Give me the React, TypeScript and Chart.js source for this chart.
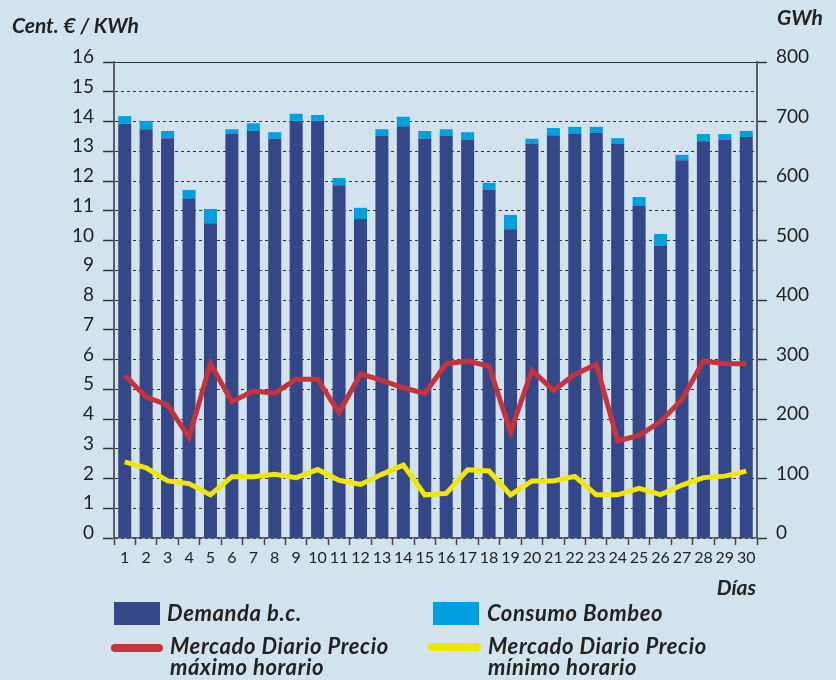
import React, { useEffect, useRef } from "react";
import { Chart, registerables } from "chart.js";

Chart.register(...registerables);

const dias = ["1","2","3","4","5","6","7","8","9","10","11","12","13","14","15","16","17","18","19","20","21","22","23","24","25","26","27","28","29","30"];
const demanda = [696,687,672,570,529,679,684,671,701,701,593,536,676,692,671,676,669,585,519,662,677,679,681,662,558,491,635,667,669,674];
const bombeo = [13,14,12,15,24,8,13,11,12,10,12,19,11,16,13,11,13,12,24,9,12,12,10,10,15,20,9,12,10,10];
const precioMax = [5.47,4.74,4.47,3.38,5.86,4.58,4.94,4.87,5.34,5.34,4.21,5.52,5.30,5.05,4.86,5.86,5.95,5.78,3.56,5.64,4.96,5.50,5.84,3.26,3.45,3.91,4.66,5.95,5.86,5.86];
const precioMin = [2.56,2.36,1.92,1.83,1.45,2.06,2.06,2.14,2.03,2.30,1.94,1.80,2.14,2.45,1.45,1.50,2.29,2.25,1.45,1.92,1.92,2.07,1.45,1.45,1.67,1.46,1.78,2.03,2.08,2.25];

const leftMax = 16;
const rightMax = 800;
const rightStep = 100;

const BG = "#d3e3ed";
const C_DEM = "#334789";
const C_BOM = "#00a0e0";
const C_MAX = "#c8323a";
const C_MIN = "#f2e600";
const TXT = "#222";
const FONT = "Lato, 'Open Sans', sans-serif";

function Txt(props: { x: number; baseline: number; size: number; lh?: number; ls?: number; align?: "left" | "right"; children: React.ReactNode }) {
  const { x, baseline, size, align = "left" } = props;
  const lh = props.lh ?? size;
  const top = baseline - lh / 2 - 0.387 * size;
  const style: React.CSSProperties = {
    position: "absolute",
    top,
    fontFamily: FONT,
    fontWeight: 700,
    fontStyle: "italic",
    fontSize: size,
    lineHeight: lh + "px",
    letterSpacing: (props.ls ?? 0) + "px",
    color: TXT,
    whiteSpace: "nowrap",
  };
  if (align === "left") style.left = x;
  else { style.right = 836 - x; style.textAlign = "right"; }
  return <div style={style}>{props.children}</div>;
}

export default function App() {
  const ref = useRef<HTMLCanvasElement | null>(null);

  useEffect(() => {
    if (!ref.current) return;
    const dashFn = (ctx: any) => (ctx.tick && ctx.tick.value === leftMax ? [] : [3, 3]);
    const chart = new Chart(ref.current, {
      type: "bar",
      data: {
        labels: dias,
        datasets: [
          { type: "line", label: "Mercado Diario Precio máximo horario", data: precioMax, yAxisID: "y", borderColor: C_MAX, backgroundColor: C_MAX, borderWidth: 5, pointRadius: 0, tension: 0, order: 0 } as any,
          { type: "line", label: "Mercado Diario Precio mínimo horario", data: precioMin, yAxisID: "y", borderColor: C_MIN, backgroundColor: C_MIN, borderWidth: 5, pointRadius: 0, tension: 0, order: 0 } as any,
          { type: "bar", label: "Demanda b.c.", data: demanda, yAxisID: "y1", stack: "s", backgroundColor: C_DEM, barPercentage: 0.607, categoryPercentage: 1, order: 1 } as any,
          { type: "bar", label: "Consumo Bombeo", data: bombeo, yAxisID: "y1", stack: "s", backgroundColor: C_BOM, barPercentage: 0.607, categoryPercentage: 1, order: 1 } as any,
        ],
      },
      options: {
        animation: false,
        responsive: false,
        devicePixelRatio: 1,
        layout: { padding: { top: 62, left: 0, right: 0, bottom: 0 } },
        plugins: { legend: { display: false }, tooltip: { enabled: false } },
        scales: {
          x: {
            stacked: true,
            grid: { display: true, drawOnChartArea: false, drawTicks: true, tickLength: 7, offset: true, color: "#444", tickColor: "#444", tickWidth: 1.5 },
            border: { display: true, color: "#555", width: 1.5 },
            ticks: { font: { family: FONT, size: 16 }, color: TXT, padding: 3, maxRotation: 0, autoSkip: false },
            afterFit: (s: any) => { s.height = 142; },
          },
          y: {
            position: "left",
            min: 0,
            max: leftMax,
            ticks: { stepSize: 1, font: { family: FONT, size: 19 }, color: TXT, padding: 9, labelOffset: -5 },
            grid: { color: "#333", lineWidth: 1, borderDash: dashFn, drawTicks: true, tickLength: 11, tickColor: "#333", tickWidth: 1.5, tickBorderDash: [] } as any,
            border: { display: true, color: "#5a5f63", width: 2, dash: dashFn } as any,
            afterFit: (s: any) => { s.width = 114; },
          },
          y1: {
            position: "right",
            stacked: true,
            min: 0,
            max: rightMax,
            ticks: { stepSize: rightStep, font: { family: FONT, size: 19 }, color: TXT, padding: 9, labelOffset: -5 },
            grid: { drawOnChartArea: false, drawTicks: true, tickLength: 10, tickColor: "#333", tickWidth: 1.5 },
            border: { display: true, color: "#5a5f63", width: 2 },
            afterFit: (s: any) => { s.width = 79; },
          },
        },
      } as any,
    });
    return () => chart.destroy();
  }, []);

  return (
    <div style={{ position: "absolute", left: 0, top: 0, width: 836, height: 680, background: BG, overflow: "hidden" }}>
      <canvas ref={ref} width={836} height={680} style={{ display: "block", width: 836, height: 680 }} />
      <Txt x={12} baseline={33} size={21}>Cent. € / KWh</Txt>
      <Txt x={777} baseline={25} size={21}>GWh</Txt>
      <Txt x={756} baseline={595} size={21} align="right">Días</Txt>

      <div style={{ position: "absolute", left: 114, top: 602, width: 46, height: 23, background: C_DEM }} />
      <Txt x={167} baseline={622} size={22} ls={0.6}>Demanda b.c.</Txt>
      <div style={{ position: "absolute", left: 433, top: 602, width: 46, height: 23, background: C_BOM }} />
      <Txt x={487} baseline={622} size={22} ls={0.6}>Consumo Bombeo</Txt>

      <div style={{ position: "absolute", left: 111, top: 644, width: 52, height: 8, borderRadius: 4, background: C_MAX }} />
      <Txt x={170} baseline={654} size={22} lh={21} ls={0.6}>Mercado Diario Precio<br />máximo horario</Txt>
      <div style={{ position: "absolute", left: 428, top: 643, width: 53, height: 8, borderRadius: 4, background: C_MIN }} />
      <Txt x={488} baseline={654} size={22} lh={21} ls={0.6}>Mercado Diario Precio<br />mínimo horario</Txt>
    </div>
  );
}
